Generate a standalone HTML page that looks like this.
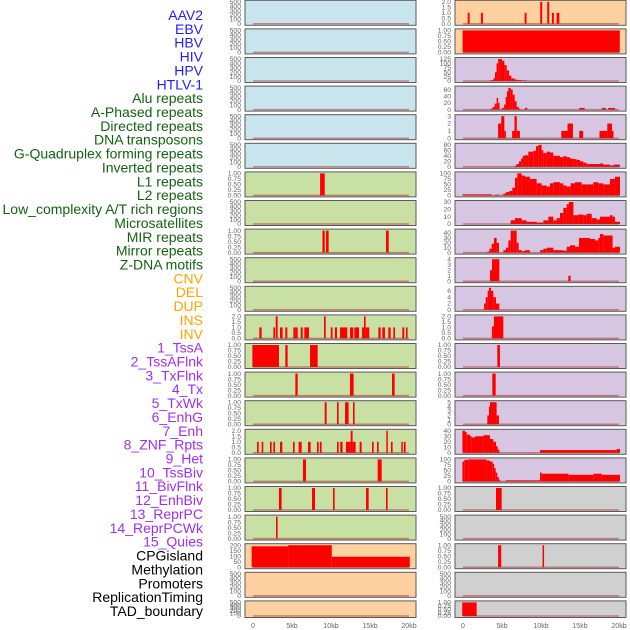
<!DOCTYPE html>
<html><head><meta charset="utf-8"><style>
html,body{margin:0;padding:0;background:#fff;}
svg{display:block;font-family:"Liberation Sans",sans-serif;}
</style></head><body>
<svg id="chart" width="630" height="630" viewBox="0 0 630 630" xmlns="http://www.w3.org/2000/svg">
<g id="labels"></g>
<g id="panels"></g>
<g id="xaxes"></g>
</svg>
<script>
const trackLabels = ["AAV2","EBV","HBV","HIV","HPV","HTLV-1","Alu repeats","A-Phased repeats","Directed repeats","DNA transposons","G-Quadruplex forming repeats","Inverted repeats","L1 repeats","L2 repeats","Low_complexity A/T rich regions","Microsatellites","MIR repeats","Mirror repeats","Z-DNA motifs","CNV","DEL","DUP","INS","INV","1_TssA","2_TssAFlnk","3_TxFlnk","4_Tx","5_TxWk","6_EnhG","7_Enh","8_ZNF_Rpts","9_Het","10_TssBiv","11_BivFlnk","12_EnhBiv","13_ReprPC","14_ReprPCWk","15_Quies","CPGisland","Methylation","Promoters","ReplicationTiming","TAD_boundary"];
const labelGroups = ["b","b","b","b","b","b","g","g","g","g","g","g","g","g","g","g","g","g","g","o","o","o","o","o","p","p","p","p","p","p","p","p","p","p","p","p","p","p","p","k","k","k","k","k"];
const xTickLabels = ["0","5kb","10kb","15kb","20kb"];
const xTickKb = [0,5,10,15,20];

const L0Kb=[],L0Val=[],L1Kb=[],L1Val=[],L2Kb=[],L2Val=[],L3Kb=[],L3Val=[],L4Kb=[],L4Val=[],L5Kb=[],L5Val=[];
const L6Kb=[8.6,9.2], L6Val=[1,0];
const L7Kb=[], L7Val=[];
const L8Kb=[8.9,9.2,9.36,9.7,17.05,17.4], L8Val=[1,0,1,0,1,0];
const L9Kb=[],L9Val=[],L10Kb=[],L10Val=[];
const L11Kb=[0.81,1.11,2.61,2.82,2.91,3.16,3.46,3.8,4.14,4.4,5.17,5.5,5.73,6.11,6.37,6.58,7.18,9.1,9.32,9.97,10.2,10.5,10.77,11.15,12.09,12.43,12.86,12.99,13.59,13.97,14.23,14.44,14.91,16.07,16.37,16.58,16.92,17.35,17.65,17.99,18.21,19.14,19.4,19.61,19.82];
const L11Val=[1,0,1,0,2,0,1,0,1,0,1,1,0,1,0,1,0,2,0,1,0,1,0,1,0,1,0,1,0,1,2,1,0,1,0,1,0,1,0,1,0,1,0,1,0];
const L12Kb=[-0.08,3.33,4.14,4.44,7.31,8.29], L12Val=[1,0,1,0,1,0];
const L13Kb=[5.43,5.73,12.43,12.9,17.82,18.16], L13Val=[1,0,1,0,1,0];
const L14Kb=[9.19,9.44,10.77,10.98,11.8,12.26,12.82,13.03], L14Val=[1,0,1,0,1,0,1,0];
const L15Kb=[0.51,0.73,1.11,1.32,2.18,2.39,2.61,2.82,3.46,3.76,5.13,5.34,5.85,6.24,7.05,7.39,8.2,8.42,8.58,8.8,10.77,10.98,11.19,11.49,11.92,12.52,12.77,13.16,13.67,13.93,15.26,15.47,15.9,16.11,17.09,17.26,17.69,17.9,19.01,19.18,19.35,19.57];
const L15Val=[1,0,1,0,1,0,1,0,1,0,1,0,1,0,1,0,1,0,1,0,1,0,1,0,1,2,1,0,1,0,1,0,1,0,2,0,1,0,1,0,1,0];
const L16Kb=[6.41,6.8,15.98,16.5], L16Val=[1,0,1,0];
const L17Kb=[3.33,3.67,7.56,7.95,10.26,10.47,14.49,14.83,17.05,17.26], L17Val=[1,0,1,0,1,0,1,0,1,0];
const L18Kb=[2.95,3.16], L18Val=[1,0];
const L19Kb=[-0.17,4.5,10.1,20.1], L19Val=[190,200,95,0];
const L20Kb=[],L20Val=[],L21Kb=[],L21Val=[];

const R0Kb=[0.6,0.85,2.3,2.55,7.9,8.15,9.9,10.15,10.8,11.05,11.4,11.65,12.0,12.35], R0Val=[1,0,1,0,1,0,2,0,2,0,1,0,1,0];
const R1Kb=[-0.05,20.1], R1Val=[1,0];
const R2Kb=[3.3,3.6,3.9,4.1,4.3,4.5,4.8,5.0,5.3,5.6,5.9,6.2,6.6,7.0,7.5,8.2], R2Val=[2,5,15,50,100,125,125,115,90,60,30,15,8,5,3,0];
const R3Kb=[3.55,3.8,4.06,4.31,4.5,4.64,4.96,5.26,5.47,5.64,5.81,6.11,6.37,6.62,6.88,7.14,7.3,7.95,8.25,14.9,15.6,17.8,18.3,18.6,19.5], R3Val=[3,8,18,35,20,0,5,15,38,55,65,60,45,25,8,3,0,5,0,5,0,5,0,5,0];
const R4Kb=[4.5,4.9,5.3,5.5,6.3,6.6,6.9,7.3,12.6,13.4,14.1,14.9,15.4,17.5,18.5,19.1,19.3], R4Val=[2,3,1,0,1,3,1,0,1,2,0,1,0,1,2,1,0];
const R5Kb=[6.67,6.88,7.18,7.44,7.65,7.95,8.38,9.01,9.36,9.66,10.08,10.3,10.73,11.15,11.58,12.43,12.86,13.29,13.72,14.15,14.57,15.0,15.43,15.85,17.56,17.99,18.84,19.27,20.13], R5Val=[5,10,20,30,40,42,55,58,75,80,60,50,55,52,40,35,38,35,30,28,25,20,15,10,12,8,5,8,0];
const R6Kb=[-0.08,3.67,4.1,4.6,5.17,5.5,5.93,6.32,6.67,6.96,7.52,7.95,8.58,9.44,10.08,10.73,11.15,11.58,12.43,12.86,13.29,13.8,14.36,15.21,15.85,16.71,17.35,17.99,18.84,19.48,20.13], R6Val=[5,0,3,0,8,15,20,35,80,100,90,85,75,55,45,40,55,60,55,45,40,55,60,50,50,60,55,50,75,85,0];
const R7Kb=[6.11,6.67,7.52,8.16,9.44,10.3,10.94,11.58,12.0,12.43,12.86,13.29,13.58,14.15,14.78,15.43,15.85,16.5,17.14,17.56,18.84,19.18,19.48,20.13], R7Val=[5,8,5,3,2,5,10,5,8,15,22,27,30,12,13,12,14,8,6,10,12,10,3,0];
const R8Kb=[3.12,3.38,3.67,3.97,4.31,4.61,5.17,5.5,5.81,6.11,6.45,6.88,7.14,7.52,7.95,8.58,9.87,10.3,10.73,11.58,12.86,13.29,13.72,14.36,14.87,16.28,16.92,17.35,17.56,17.99,18.84,19.18,19.48,20.13], R8Val=[2,8,18,30,20,0,5,10,25,45,45,20,5,3,5,0,5,8,10,5,4,12,15,12,30,28,25,30,38,35,35,10,12,0];
const R9Kb=[3.46,3.72,4.66,13.5,13.8], R9Val=[2,4,0,1,0];
const R10Kb=[2.69,2.91,3.16,3.33,3.59,3.89,4.23,4.66], R10Val=[2,4,6,7,6,4,2,0];
const R11Kb=[3.7,3.96,5.17], R11Val=[1.1,2,0];
const R12Kb=[4.4,4.74], R12Val=[1,0];
const R13Kb=[3.76,4.19], R13Val=[1,0];
const R14Kb=[3.12,3.33,3.46,4.31,4.61], R14Val=[2,4,5,2,0];
const R15Kb=[-0.08,0.26,0.47,0.9,1.11,1.54,2.61,3.46,3.89,4.23,4.44,4.66,9.87,19.7,20.13], R15Val=[40,38,33,30,28,30,32,25,20,12,6,0,5,7,0];
const R16Kb=[-0.08,0.17,0.68,2.18,3.03,3.46,3.8,3.97,4.19,4.4,4.57,4.74,5.5,9.87,10.08,13.5,16.71,17.78,20.13], R16Val=[90,98,100,100,95,90,80,60,40,20,8,0,5,40,35,30,35,30,0];
const R17Kb=[4.23,4.96], R17Val=[1,0];
const R18Kb=[], R18Val=[];
const R19Kb=[4.5,4.9,10.2,10.35], R19Val=[1,0,1,0];
const R20Kb=[], R20Val=[];
const R21Kb=[-0.1,1.75], R21Val=[1,0];

const T500=[0,100,200,300,400,500], T1=[0,0.25,0.5,0.75,1], T2=[0,0.5,1,1.5,2];
const leftTicks=[T500,T500,T500,T500,T500,T500,T1,T500,T1,T500,T500,T2,T1,T1,T1,T2,T1,T1,T1,[0,50,100,150,200],T500,T500];
const leftMax=[500,500,500,500,500,500,1,500,1,500,500,2,1,1,1,2,1,1,1,200,500,500];
const rightTicks=[T2,T1,[0,25,50,75,100,125],[0,20,40,60],[0,1,2,3],[0,20,40,60,80],[0,25,50,75,100],[0,10,20,30],[0,10,20,30,40],[0,1,2,3,4],[0,2,4,6],T2,T1,T1,[0,1,2,3,4,5],[0,10,20,30,40],[0,25,50,75,100],T1,T500,T1,T500,T1];
const rightMax=[2,1,125,66,3,80,100,30,45,4,7,2,1,1,5,40,100,1,500,1,500,1];

const leftSeries=[[L0Kb,L0Val],[L1Kb,L1Val],[L2Kb,L2Val],[L3Kb,L3Val],[L4Kb,L4Val],[L5Kb,L5Val],[L6Kb,L6Val],[L7Kb,L7Val],[L8Kb,L8Val],[L9Kb,L9Val],[L10Kb,L10Val],[L11Kb,L11Val],[L12Kb,L12Val],[L13Kb,L13Val],[L14Kb,L14Val],[L15Kb,L15Val],[L16Kb,L16Val],[L17Kb,L17Val],[L18Kb,L18Val],[L19Kb,L19Val],[L20Kb,L20Val],[L21Kb,L21Val]];
const rightSeries=[[R0Kb,R0Val],[R1Kb,R1Val],[R2Kb,R2Val],[R3Kb,R3Val],[R4Kb,R4Val],[R5Kb,R5Val],[R6Kb,R6Val],[R7Kb,R7Val],[R8Kb,R8Val],[R9Kb,R9Val],[R10Kb,R10Val],[R11Kb,R11Val],[R12Kb,R12Val],[R13Kb,R13Val],[R14Kb,R14Val],[R15Kb,R15Val],[R16Kb,R16Val],[R17Kb,R17Val],[R18Kb,R18Val],[R19Kb,R19Val],[R20Kb,R20Val],[R21Kb,R21Val]];

const NS="http://www.w3.org/2000/svg";
const groupColor={b:"#1f1fff",g:"#126312",o:"#ffa500",p:"#a02ff0",k:"#000000"};
const leftBg=i=>i<6?"#c8e4ec":(i<19?"#c8e0a4":"#ffd1a0");
const rightBg=i=>i<2?"#ffd1a0":(i<17?"#d6c6e2":"#d0d0d0");
function mk(tag,attrs,parent){const e=document.createElementNS(NS,tag);for(const k in attrs)e.setAttribute(k,attrs[k]);parent.appendChild(e);return e;}

const lg=document.getElementById("labels");
trackLabels.forEach((t,i)=>{
  const e=mk("text",{x:203,y:15+i*13.86+5,"text-anchor":"end","font-size":"14",fill:groupColor[labelGroups[i]]},lg);
  
  
  e.textContent=t;
});

const pg=document.getElementById("panels");
function fmt(v,ticks){const m=ticks[ticks.length-1];if(m===1)return v.toFixed(2);if(m===2)return v.toFixed(1);return String(v);}
function drawPanel(col,i,series,ticks,ymax,bg){
  const x0=col===0?245:455, x1=col===0?416:626;
  const zero=col===0?253:463, kbW=7.8;
  const xs=kb=>zero+kb*kbW;
  const top=0.3+28.6*i, h=i===21?16.6:25;
  const pTop=top+1.5, pBot=top+h-1.5;
  const ys=v=>pBot-(v/ymax)*(pBot-pTop);
  const g=mk("g",{},pg);
  
  
  const r=mk("rect",{x:x0,y:top,width:x1-x0,height:h,fill:bg,stroke:"#5a5a5a","stroke-width":1},g);
  
  
  const kbs=series[0], vals=series[1];
  for(let k=0;k<kbs.length-1;k++){
    if(vals[k]<=0)continue;
    const a=xs(kbs[k]), b=xs(kbs[k+1]);
    const y=Math.max(pTop-1.5,ys(vals[k]));
    const bar=mk("rect",{x:a,y:y,width:Math.max(b-a,1.5),height:pBot-y,fill:"#ff0000"},g);
    
    
  }
  const bl=mk("line",{x1:xs(0),x2:xs(20),y1:pBot,y2:pBot,stroke:"rgba(170,40,40,0.5)","stroke-width":1.5},g);
  
  
  ticks.forEach(t=>{
    const tx=mk("text",{x:x0-4,y:ys(t)+2.2,"text-anchor":"end","font-size":"6.8",fill:"#666"},g);
    
    
    tx.textContent=fmt(t,ticks);
  });
}
for(let i=0;i<22;i++){
  drawPanel(0,i,leftSeries[i],leftTicks[i],leftMax[i],leftBg(i));
  drawPanel(1,i,rightSeries[i],rightTicks[i],rightMax[i],rightBg(i));
}
const xg=document.getElementById("xaxes");
[253,463].forEach(zero=>{
  xTickKb.forEach((kb,j)=>{
    const t=mk("text",{x:zero+kb*7.8,y:628,"text-anchor":"middle","font-size":"7",fill:"#666"},xg);
    
    
    t.textContent=xTickLabels[j];
  });
});
</script>
</body></html>
